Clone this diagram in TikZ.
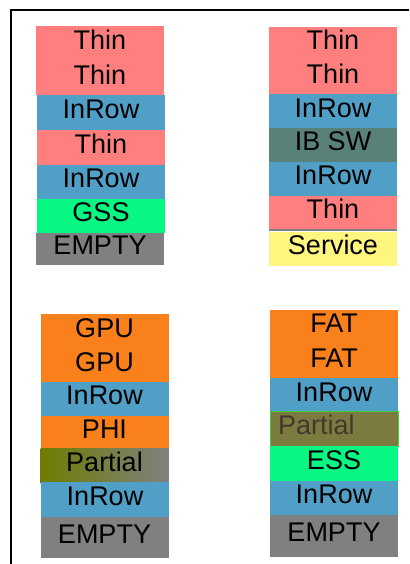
\documentclass[tikz,border=0pt]{standalone}
\usepackage{fontspec}
\setmainfont{Liberation Sans}
\usepackage{tikz}
\usetikzlibrary{shadings}

\definecolor{thincol}{HTML}{FF7F7F}
\definecolor{inrowcol}{HTML}{4F9FC6}
\definecolor{gsscol}{HTML}{06F782}
\definecolor{emptycol}{HTML}{808080}
\definecolor{ibswcol}{HTML}{5A807A}
\definecolor{servicecol}{HTML}{FFF67F}
\definecolor{gpucol}{HTML}{F9801A}
\definecolor{partialcol}{HTML}{7B7B40}
\definecolor{oliveleft}{HTML}{6E7D00}
\definecolor{partialtext}{HTML}{46372D}
\definecolor{partialedge}{HTML}{3FD23F}

\begin{document}
\begin{tikzpicture}[x=1pt,y=-1pt,
    slot/.style={rectangle, inner sep=0pt, minimum width=128pt, minimum height=34.5pt,
      text height=19.4pt, text depth=7.6pt, font=\fontsize{27}{27}\selectfont},
    thin/.style={slot, fill=thincol},
    inrow/.style={slot, fill=inrowcol},
    gss/.style={slot, fill=gsscol},
    empty/.style={slot, fill=emptycol, minimum height=41.5pt},
    ibsw/.style={slot, fill=ibswcol},
    service/.style={slot, fill=servicecol},
    gpu/.style={slot, fill=gpucol}]
  \useasboundingbox (0,0) rectangle (409,564);

  % frame
  \draw[line width=2pt] (409,10) -- (11,10) -- (11,564);

  % top left
  \node[thin]  (tl1) at (100,43.5)   {Thin};
  \node[thin]  (tl2) at (100,78.25)  {Thin};
  \node[inrow] (tl3) at (101,112.75) {InRow};
  \node[thin]  (tl4) at (101,147.5)  {Thin};
  \node[inrow] (tl5) at (101,182)    {InRow};
  \node[gss]   (tl6) at (101,216)    {GSS};
  \node[empty, minimum height=32pt] (tl7) at (100,249) {EMPTY};

  % top right
  \node[thin]    (tr1) at (333,44)     {Thin};
  \node[thin]    (tr2) at (333,77.75)  {Thin};
  \node[inrow]   (tr3) at (333,111.25) {InRow};
  \node[ibsw]    (tr4) at (333,145)    {IB SW};
  \node[inrow]   (tr5) at (333,179)    {InRow};
  \node[thin]    (tr6) at (333,213)    {Thin};
  \node[service] (tr7) at (333,249)    {Service};
  \draw[emptycol, line width=2pt] (tr6.south west) -- (tr6.south east);

  % bottom left
  \node[gpu]   (bl1) at (104.5,331.5)  {GPU};
  \node[gpu]   (bl2) at (104.5,365.5)  {GPU};
  \node[inrow] (bl3) at (104.5,399)    {InRow};
  \node[gpu]   (bl4) at (104.5,432.75) {PHI};
  \node[slot, left color=oliveleft, right color=emptycol] (bl5) at (104.5,466) {Partial};
  \node[inrow] (bl6) at (105,499.5)    {InRow};
  \node[empty] (bl7) at (104.5,537.25) {EMPTY};

  % bottom right
  \node[gpu]   (br1) at (334,327)    {FAT};
  \node[gpu]   (br2) at (334,361.25) {FAT};
  \node[inrow] (br3) at (334,395.25) {InRow};
  \node[slot, fill=partialcol, draw=partialedge, line width=0.6pt, text=partialtext,
        text width=112pt, align=left, inner xsep=8pt] (br4) at (334,429) {Partial};
  \node[gss]   (br5) at (334,463.5)  {ESS};
  \node[inrow] (br6) at (334,498)    {InRow};
  \node[empty] (br7) at (334,536)    {EMPTY};
\end{tikzpicture}
\end{document}
